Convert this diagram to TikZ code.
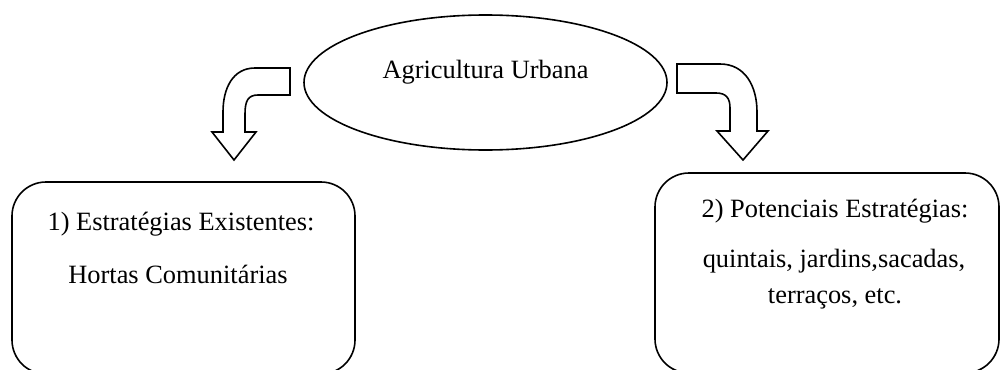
\documentclass[tikz,border=0pt]{standalone}
\usepackage{fontspec}
\setmainfont{Liberation Serif}
\usetikzlibrary{shapes.geometric}
\begin{document}
\begin{tikzpicture}[x=1pt,y=-1pt,
  line width=1.6pt,
  txt/.style={font=\fontsize{26.4}{31}\selectfont, inner sep=0pt, anchor=base},
  box/.style={draw, rounded corners=34pt, inner sep=0pt},
  bent/.style={draw, line join=miter, fill=white}]
\useasboundingbox (0,0) rectangle (1000,369);
% central ellipse
\node[draw, ellipse, minimum width=363pt, minimum height=135pt, inner sep=0pt] (top) at (485.5,82.5) {};
\node[txt] (toptxt) at (485.5,78) {Agricultura Urbana};
% boxes
\node[box, minimum width=343pt, minimum height=192pt] (left) at (183.5,278) {};
\node[txt] (l1) at (181,230) {1) Estratégias Existentes:};
\node[txt] (l2) at (178,283) {Hortas Comunitárias};
\node[box, minimum width=344pt, minimum height=200pt] (right) at (827,273) {};
\node[txt] (r1) at (835,217) {2) Potenciais Estratégias:};
\node[txt] (r2) at (834,267) {quintais, jardins,sacadas,};
\node[txt] (r3) at (835,303) {terraços, etc.};
% bent arrows
\draw[bent] (290,68) -- (255,68) .. controls (233,68) and (223,88) .. (223,112) -- (223,132)
  -- (212,132) -- (234,160) -- (256,132) -- (245,132) -- (245,114)
  .. controls (245,101) and (248,95) .. (258,95) -- (290,95) -- cycle;
\draw[bent] (677,64) -- (720,64) .. controls (745,64) and (757,86) .. (757,112) -- (757,131)
  -- (768,131) -- (743,160) -- (717,131) -- (730,131) -- (730,108)
  .. controls (730,98) and (726,93) .. (716,93) -- (677,93) -- cycle;
\end{tikzpicture}
\end{document}
